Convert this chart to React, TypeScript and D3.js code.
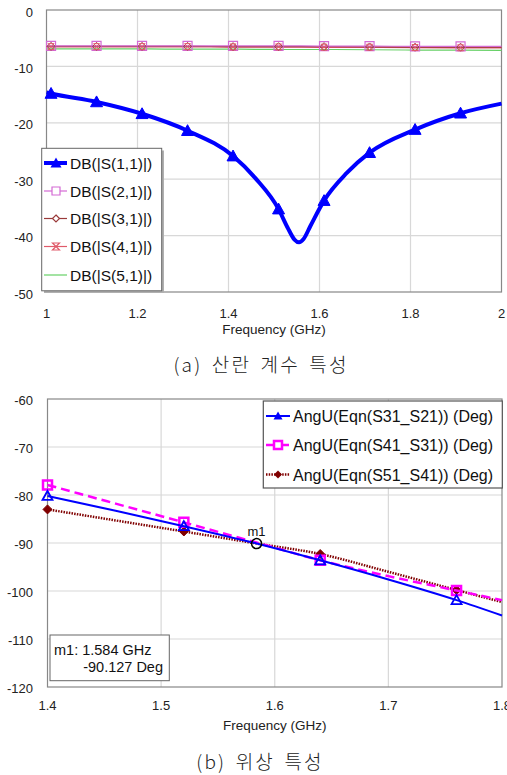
import React from 'react';
import * as d3 from 'd3';

// chart (a): scattering parameters
const s11Freq = [1.0, 1.01, 1.11, 1.21, 1.31, 1.41, 1.46, 1.51, 1.53, 1.545, 1.555, 1.565, 1.58, 1.61, 1.66, 1.71, 1.81, 1.91, 2.0];
const s11Db = [-14.6, -14.8, -16.3, -18.4, -21.4, -25.9, -29.9, -35.3, -38.6, -40.7, -41.2, -40.6, -38.3, -33.8, -28.9, -25.3, -21.2, -18.3, -16.6];
const sMarkerFreq = [1.01, 1.11, 1.21, 1.31, 1.41, 1.51, 1.61, 1.71, 1.81, 1.91];
const flatFreq = [1.0, 1.01, 1.11, 1.21, 1.31, 1.41, 1.51, 1.61, 1.71, 1.81, 1.91, 2.0];
const s21Db = [-6.35, -6.35, -6.35, -6.35, -6.35, -6.35, -6.35, -6.4, -6.4, -6.45, -6.45, -6.45];
const s31Db = [-6.45, -6.45, -6.45, -6.45, -6.45, -6.5, -6.5, -6.5, -6.55, -6.6, -6.6, -6.6];
const s41Db = [-6.5, -6.5, -6.5, -6.5, -6.5, -6.55, -6.55, -6.6, -6.6, -6.65, -6.7, -6.7];
const s51Db = [-6.9, -6.9, -6.9, -6.9, -6.95, -6.95, -7.0, -7.0, -7.05, -7.1, -7.1, -7.15];
const sLegend = ['DB(|S(1,1)|)', 'DB(|S(2,1)|)', 'DB(|S(3,1)|)', 'DB(|S(4,1)|)', 'DB(|S(5,1)|)'];
const xTicksA = [1, 1.2, 1.4, 1.6, 1.8, 2];
const yTicksA = [0, -10, -20, -30, -40, -50];

// chart (b): phase
const phaseFreq = [1.4, 1.46, 1.52, 1.584, 1.64, 1.7, 1.76, 1.8];
const ang3121 = [-80.2, -83.3, -86.5, -90.1, -93.6, -97.6, -101.9, -105.1];
const ang4131 = [-77.9, -81.8, -85.7, -89.9, -93.6, -96.9, -99.9, -101.9];
const ang5141 = [-83.0, -85.3, -87.6, -90.1, -92.3, -96.0, -99.8, -102.3];
const phaseMarkerFreq = [1.4, 1.52, 1.64, 1.76];
const pLegend = ['AngU(Eqn(S31_S21)) (Deg)', 'AngU(Eqn(S41_S31)) (Deg)', 'AngU(Eqn(S51_S41)) (Deg)'];
const m1Freq = 1.584;
const m1Val = -90.127;
const xTicksB = [1.4, 1.5, 1.6, 1.7, 1.8];
const yTicksB = [-60, -70, -80, -90, -100, -110, -120];

const FONT = '"Liberation Sans", Arial, sans-serif';
const KFONT = '"Noto Sans CJK KR", sans-serif';

const isMarker = (f: number, list: number[]) => list.some(m => Math.abs(m - f) < 1e-6);

function tri(x: number, y: number, r: number) {
  return `M${x},${y - r}L${x + r},${y + r * 0.8}L${x - r},${y + r * 0.8}Z`;
}
function sq(x: number, y: number, r: number) {
  return `M${x - r},${y - r}H${x + r}V${y + r}H${x - r}Z`;
}
function dia(x: number, y: number, r: number) {
  return `M${x},${y - r}L${x + r},${y}L${x},${y + r}L${x - r},${y}Z`;
}
function hourglass(x: number, y: number, r: number) {
  return `M${x - r},${y - r}H${x + r}L${x - r},${y + r}H${x + r}Z`;
}

function Caption({ x, y, text }: { x: number; y: number; text: string }) {
  return (
    <text x={x} y={y} textAnchor="middle" fontSize={19} fontWeight={300} letterSpacing={2.2}
      wordSpacing={3} fontFamily={KFONT} fill="#222">{text}</text>
  );
}

function ChartA() {
  const L = 46.5, R = 501.5, T = 10, B = 292;
  const x = d3.scaleLinear().domain([1, 2]).range([L, R]);
  const y = d3.scaleLinear().domain([0, -50]).range([T, B]);
  const line = d3.line<[number, number]>().x(d => x(d[0])).y(d => y(d[1])).curve(d3.curveMonotoneX);
  const s11 = s11Freq.map((f, i) => [f, s11Db[i]] as [number, number]);
  const flats = [
    { v: s51Db, c: '#66d066', w: 1.2 },
    { v: s41Db, c: '#e05a6a', w: 1.5 },
    { v: s31Db, c: '#9a3a3a', w: 1.2 },
    { v: s21Db, c: '#d46ad4', w: 1.2 },
  ];
  const legY = [163, 191, 218.5, 246.5, 275];
  return (
    <g>
      <rect x={L} y={T} width={R - L} height={B - T} fill="#fff" />
      {xTicksA.slice(1, -1).map(t => (
        <line key={'gx' + t} x1={x(t)} x2={x(t)} y1={T} y2={B} stroke="#d8d8d8" strokeWidth={1.2} />
      ))}
      {yTicksA.slice(1, -1).map(t => (
        <line key={'gy' + t} x1={L} x2={R} y1={y(t)} y2={y(t)} stroke="#d8d8d8" strokeWidth={1.2} />
      ))}
      <rect x={L} y={T} width={R - L} height={B - T} fill="none" stroke="#888" strokeWidth={1.2} />
      {flats.map((s, k) => (
        <path key={'f' + k} d={line(flatFreq.map((f, i) => [f, s.v[i]] as [number, number])) || ''}
          fill="none" stroke={s.c} strokeWidth={s.w} />
      ))}
      {flatFreq.filter(f => isMarker(f, sMarkerFreq)).map(f => {
        const i = flatFreq.indexOf(f);
        const cx = x(f);
        return (
          <g key={'fm' + f} fill="none">
            <path d={sq(cx, y(s21Db[i]), 4.5)} stroke="#d46ad4" strokeWidth={1.2} />
            <path d={dia(cx, y(s31Db[i]), 4)} stroke="#9a3a3a" strokeWidth={1} />
            <path d={hourglass(cx, y(s41Db[i]), 3)} stroke="#e05a6a" strokeWidth={1} />
          </g>
        );
      })}
      <path d={line(s11) || ''} fill="none" stroke="#0000ff" strokeWidth={4} strokeLinejoin="round" />
      {s11.filter(d => isMarker(d[0], sMarkerFreq)).map(d => (
        <path key={'m' + d[0]} d={tri(x(d[0]), y(d[1]), 6)} fill="#0000ff" stroke="#0000ff" strokeWidth={1} />
      ))}
      {yTicksA.map(t => (
        <text key={'ty' + t} x={33} y={y(t) + 6.5} textAnchor="end" fontSize={13} fontFamily={FONT} fill="#222">{t}</text>
      ))}
      {xTicksA.map(t => (
        <text key={'tx' + t} x={x(t)} y={318} textAnchor="middle" fontSize={13} fontFamily={FONT} fill="#222">{t}</text>
      ))}
      <text x={(L + R) / 2} y={334} textAnchor="middle" fontSize={13.5} fontFamily={FONT} fill="#222">Frequency (GHz)</text>
      {/* legend */}
      <rect x={44} y={150.5} width={120} height={142.5} fill="#b0b0b0" />
      <rect x={41.7} y={148.3} width={120} height={142.5} fill="#fff" stroke="#666" strokeWidth={1} />
      {sLegend.map((name, k) => {
        const ly = legY[k];
        const colors = ['#0000ff', '#d46ad4', '#9a3a3a', '#e05a6a', '#66d066'];
        return (
          <g key={'lg' + k}>
            <line x1={44} x2={67} y1={ly} y2={ly} stroke={colors[k]} strokeWidth={k === 0 ? 4 : 1.2} />
            {k === 0 && <path d={tri(56, ly, 5.5)} fill="#0000ff" />}
            {k === 1 && <path d={sq(56, ly, 4)} fill="#fff" stroke={colors[k]} strokeWidth={1.2} />}
            {k === 2 && <path d={dia(56, ly, 3.5)} fill="#fff" stroke={colors[k]} strokeWidth={1.2} />}
            {k === 3 && <path d={hourglass(56, ly, 3.5)} fill="#fff" stroke={colors[k]} strokeWidth={1.2} />}
            <text x={70} y={ly + 5.5} fontSize={15.5} fontFamily={FONT} fill="#111">{name}</text>
          </g>
        );
      })}
      <Caption x={261} y={372} text="(a) 산란 계수 특성" />
    </g>
  );
}

function ChartB() {
  const L = 47.5, R = 502, T = 399, B = 687;
  const x = d3.scaleLinear().domain([1.4, 1.8]).range([L, R]);
  const y = d3.scaleLinear().domain([-60, -120]).range([T, B]);
  const line = d3.line<[number, number]>().x(d => x(d[0])).y(d => y(d[1])).curve(d3.curveMonotoneX);
  const series = [
    { v: ang3121, c: '#0000ff', w: 2, dash: undefined as string | undefined },
    { v: ang4131, c: '#ff00ff', w: 2.5, dash: '9,5' },
    { v: ang5141, c: '#800000', w: 2.5, dash: '1.5,1.2' },
  ];
  const drawOrder = [2, 1, 0];
  const legY = [416, 445, 474.5];
  const marker = (k: number, cx: number, cy: number, key: string) => {
    if (k === 0) return <path key={key} d={tri(cx, cy, 5)} fill="none" stroke="#0000ff" strokeWidth={1.8} />;
    if (k === 1) return <path key={key} d={sq(cx, cy, 4.5)} fill="none" stroke="#ff00ff" strokeWidth={2.5} />;
    return <path key={key} d={dia(cx, cy, 4.5)} fill="#800000" stroke="#800000" strokeWidth={1} />;
  };
  return (
    <g>
      <rect x={L} y={T} width={R - L} height={B - T} fill="#fff" />
      {xTicksB.slice(1, -1).map(t => (
        <line key={'gx' + t} x1={x(t)} x2={x(t)} y1={T} y2={B} stroke="#d8d8d8" strokeWidth={1.2} />
      ))}
      {yTicksB.slice(1, -1).map(t => (
        <line key={'gy' + t} x1={L} x2={R} y1={y(t)} y2={y(t)} stroke="#d8d8d8" strokeWidth={1.2} />
      ))}
      <rect x={L} y={T} width={R - L} height={B - T} fill="none" stroke="#888" strokeWidth={1.2} />
      {drawOrder.map(k => {
        const s = series[k];
        return (
          <g key={'s' + k}>
            <path d={line(phaseFreq.map((f, i) => [f, s.v[i]] as [number, number])) || ''}
              fill="none" stroke={s.c} strokeWidth={s.w} strokeDasharray={s.dash} />
            {phaseFreq.map((f, i) => isMarker(f, phaseMarkerFreq) ? marker(k, x(f), y(s.v[i]), 'mk' + k + i) : null)}
          </g>
        );
      })}
      <circle cx={x(m1Freq)} cy={y(m1Val)} r={5} fill="none" stroke="#000" strokeWidth={1.5} />
      <text x={x(m1Freq)} y={y(m1Val) - 8} textAnchor="middle" fontSize={13} fontFamily={FONT} fill="#111">m1</text>
      {yTicksB.map(t => (
        <text key={'ty' + t} x={33} y={y(t) + 5.5} textAnchor="end" fontSize={13} fontFamily={FONT} fill="#222">{t}</text>
      ))}
      {xTicksB.map(t => (
        <text key={'tx' + t} x={x(t)} y={709.5} textAnchor="middle" fontSize={13} fontFamily={FONT} fill="#222">{t}</text>
      ))}
      <text x={(L + R) / 2} y={730} textAnchor="middle" fontSize={13.5} fontFamily={FONT} fill="#222">Frequency (GHz)</text>
      {/* legend */}
      <rect x={263.3} y={401} width={239} height={87} fill="#fff" stroke="#555" strokeWidth={1.2} />
      {pLegend.map((name, k) => {
        const ly = legY[k];
        const s = series[k];
        return (
          <g key={'lg' + k}>
            <line x1={266} x2={290} y1={ly} y2={ly} stroke={s.c} strokeWidth={s.w} strokeDasharray={s.dash} />
            {k === 0 && <path d={tri(278, ly, 4.5)} fill="#0000ff" />}
            {k === 1 && <path d={sq(278, ly, 4)} fill="#fff" stroke="#ff00ff" strokeWidth={2.5} />}
            {k === 2 && <path d={dia(278, ly, 4)} fill="#800000" />}
            <text x={293} y={ly + 6} fontSize={16} fontFamily={FONT} fill="#111">{name}</text>
          </g>
        );
      })}
      {/* marker readout */}
      <rect x={50} y={635} width={119.3} height={45.7} fill="#fff" stroke="#666" strokeWidth={1} />
      <text x={54} y={655} fontSize={14.5} fontFamily={FONT} fill="#111">m1: {m1Freq} GHz</text>
      <text x={163} y={672} textAnchor="end" fontSize={14.5} fontFamily={FONT} fill="#111">{m1Val} Deg</text>
      <Caption x={260} y={769} text="(b) 위상 특성" />
    </g>
  );
}

export default function App() {
  return (
    <svg width={507} height={775} style={{ position: 'absolute', left: 0, top: 0, display: 'block', background: '#fff' }}>
      <ChartA />
      <ChartB />
    </svg>
  );
}
